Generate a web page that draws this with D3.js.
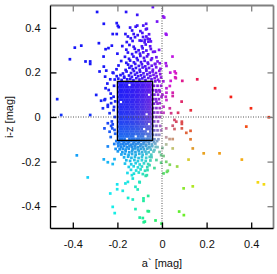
<!DOCTYPE html>
<html>
<head>
<meta charset="utf-8">
<script src="https://cdn.jsdelivr.net/npm/d3@7"></script>
<style>
  body { margin: 0; background: #fff; }
  text { font-family: "Liberation Sans", Arial, sans-serif; font-size: 11px; fill: #111; }
</style>
</head>
<body>
<svg id="chart" width="277" height="274"></svg>
<script>
// axis ticks and titles
var xTicks = [-0.4, -0.2, 0, 0.2, 0.4];
var yTicks = [-0.4, -0.2, 0, 0.2, 0.4];
var xTitle = "a` [mag]";
var yTitle = "i-z [mag]";

// selection box (a*, i-z)
var boxA = [-0.2, -0.042];
var boxIZ = [-0.105, 0.16];

// dense core, one row per i-z value: [i-z, [a* values]]
var coreRows = [
  [0.155, [-0.195,-0.184,-0.173,-0.162,-0.151,-0.14,-0.129,-0.118,-0.107,-0.096,-0.085,-0.074,-0.063,-0.052]],
  [0.144, [-0.19,-0.179,-0.168,-0.157,-0.135,-0.124,-0.113,-0.102,-0.091,-0.08,-0.069,-0.058,-0.047]],
  [0.133, [-0.195,-0.184,-0.173,-0.162,-0.151,-0.14,-0.129,-0.118,-0.107,-0.096,-0.085,-0.074,-0.063,-0.052]],
  [0.122, [-0.19,-0.179,-0.168,-0.157,-0.146,-0.135,-0.124,-0.113,-0.102,-0.091,-0.08,-0.069,-0.058,-0.047]],
  [0.111, [-0.195,-0.184,-0.173,-0.162,-0.151,-0.14,-0.129,-0.118,-0.107,-0.096,-0.085,-0.074,-0.063,-0.052]],
  [0.1, [-0.19,-0.179,-0.168,-0.157,-0.146,-0.135,-0.124,-0.113,-0.102,-0.091,-0.08,-0.069,-0.047]],
  [0.089, [-0.195,-0.184,-0.173,-0.162,-0.151,-0.14,-0.129,-0.118,-0.107,-0.096,-0.085,-0.074,-0.063,-0.052]],
  [0.078, [-0.19,-0.179,-0.168,-0.157,-0.146,-0.135,-0.124,-0.113,-0.102,-0.091,-0.08,-0.069,-0.058,-0.047]],
  [0.067, [-0.195,-0.173,-0.162,-0.151,-0.14,-0.129,-0.118,-0.107,-0.096,-0.085,-0.074,-0.063,-0.052]],
  [0.056, [-0.19,-0.179,-0.168,-0.157,-0.146,-0.135,-0.124,-0.113,-0.102,-0.091,-0.08,-0.069,-0.058,-0.047]],
  [0.045, [-0.195,-0.184,-0.173,-0.162,-0.151,-0.14,-0.129,-0.118,-0.107,-0.096,-0.085,-0.074,-0.063,-0.052]],
  [0.034, [-0.19,-0.179,-0.168,-0.157,-0.146,-0.135,-0.124,-0.113,-0.102,-0.091,-0.08,-0.069,-0.058,-0.047]],
  [0.023, [-0.195,-0.184,-0.173,-0.162,-0.151,-0.14,-0.129,-0.118,-0.107,-0.096,-0.085,-0.074,-0.063,-0.052]],
  [0.012, [-0.19,-0.179,-0.168,-0.157,-0.146,-0.135,-0.124,-0.113,-0.102,-0.091,-0.08,-0.058,-0.047]],
  [0.001, [-0.195,-0.184,-0.173,-0.162,-0.151,-0.14,-0.129,-0.118,-0.107,-0.096,-0.085,-0.074,-0.063,-0.052]],
  [-0.01, [-0.19,-0.179,-0.168,-0.157,-0.146,-0.135,-0.124,-0.113,-0.102,-0.091,-0.08,-0.069,-0.058,-0.047]],
  [-0.021, [-0.195,-0.184,-0.173,-0.162,-0.151,-0.14,-0.129,-0.118,-0.107,-0.096,-0.085,-0.074,-0.063,-0.052]],
  [-0.032, [-0.19,-0.179,-0.168,-0.157,-0.146,-0.135,-0.124,-0.113,-0.102,-0.091,-0.08,-0.069,-0.047]],
  [-0.043, [-0.195,-0.184,-0.173,-0.162,-0.151,-0.14,-0.129,-0.118,-0.107,-0.096,-0.085,-0.074,-0.063,-0.052]],
  [-0.054, [-0.19,-0.179,-0.168,-0.157,-0.146,-0.135,-0.124,-0.113,-0.102,-0.091,-0.069,-0.058,-0.047]],
  [-0.065, [-0.195,-0.184,-0.173,-0.162,-0.151,-0.14,-0.129,-0.118,-0.107,-0.096,-0.085,-0.074,-0.052]],
  [-0.076, [-0.19,-0.179,-0.168,-0.157,-0.146,-0.135,-0.124,-0.113,-0.102,-0.091,-0.08,-0.069,-0.058,-0.047]],
  [-0.087, [-0.195,-0.184,-0.173,-0.162,-0.151,-0.14,-0.129,-0.107,-0.096,-0.085,-0.063,-0.052]],
  [-0.098, [-0.19,-0.179,-0.168,-0.146,-0.135,-0.124,-0.113,-0.102,-0.091,-0.08,-0.069,-0.058,-0.047]]
];

// strip between the box and a* = 0
var edgeRows = [
  [0.16, [-0.03,-0.012,0.006]],
  [0.14, [-0.036,-0.02,-0.004]],
  [0.12, [-0.04,-0.026,-0.012]],
  [0.1, [-0.034,-0.018,0.002]],
  [0.08, [-0.04,-0.028,-0.014]],
  [0.06, [-0.036,-0.02]],
  [0.04, [-0.04,-0.025,-0.01]],
  [0.02, [-0.035,-0.02,-0.005]],
  [0.0, [-0.04,-0.025,-0.01]],
  [-0.02, [-0.035,-0.018]],
  [-0.04, [-0.04,-0.025,-0.008]],
  [-0.06, [-0.035,-0.02,-0.004]],
  [-0.08, [-0.04,-0.025,-0.012]],
  [-0.1, [-0.034,-0.016]]
];

// plume above the box: [a*, i-z]
var upperPlume = [
  [-0.212,0.168],[-0.196,0.172],[-0.181,0.166],[-0.169,0.176],[-0.156,0.169],[-0.142,0.171],[-0.128,0.165],[-0.115,0.174],
  [-0.101,0.168],[-0.088,0.173],[-0.074,0.166],[-0.061,0.175],[-0.047,0.169],[-0.033,0.174],[-0.018,0.167],[-0.004,0.177],
  [-0.203,0.183],[-0.186,0.188],[-0.17,0.181],[-0.148,0.186],[-0.135,0.18],[-0.121,0.19],[-0.107,0.183],[-0.094,0.187],
  [-0.079,0.181],[-0.066,0.191],[-0.052,0.184],[-0.038,0.189],[-0.024,0.182],[-0.008,0.192],
  [-0.218,0.197],[-0.175,0.195],[-0.159,0.204],[-0.139,0.197],[-0.126,0.206],[-0.112,0.198],[-0.098,0.203],
  [-0.083,0.196],[-0.07,0.207],[-0.055,0.199],[-0.042,0.204],[-0.027,0.197],[-0.012,0.207],
  [-0.204,0.214],[-0.163,0.211],[-0.146,0.221],[-0.131,0.214],[-0.117,0.22],[-0.1,0.212],[-0.087,0.222],[-0.071,0.215],
  [-0.058,0.22],[-0.041,0.212],[-0.026,0.223],[-0.007,0.216],
  [-0.195,0.231],[-0.152,0.235],[-0.137,0.228],[-0.12,0.238],[-0.104,0.229],[-0.09,0.236],[-0.075,0.227],[-0.062,0.238],
  [-0.046,0.23],[-0.03,0.237],
  [-0.183,0.251],[-0.16,0.243],[-0.143,0.253],[-0.126,0.245],[-0.109,0.255],[-0.094,0.246],[-0.078,0.252],[-0.064,0.244],
  [-0.049,0.256],[-0.02,0.249],
  [-0.166,0.27],[-0.148,0.261],[-0.128,0.271],[-0.113,0.264],[-0.097,0.274],[-0.081,0.265],[-0.067,0.272],[-0.045,0.263],
  [-0.025,0.268],
  [-0.2,0.284],[-0.153,0.289],[-0.134,0.282],[-0.116,0.291],[-0.099,0.284],[-0.084,0.29],[-0.062,0.281],[-0.04,0.292],
  [-0.16,0.302],[-0.122,0.306],[-0.105,0.299],[-0.087,0.308],[-0.07,0.298],[-0.05,0.305],
  [-0.178,0.318],[-0.146,0.323],[-0.127,0.315],[-0.09,0.317],[-0.073,0.325],[-0.053,0.317],
  [-0.158,0.336],[-0.132,0.341],[-0.092,0.342],[-0.078,0.335],[-0.05,0.339],
  [-0.14,0.353],[-0.121,0.358],[-0.085,0.359],[-0.064,0.351],
  [-0.127,0.372],[-0.109,0.367],[-0.088,0.377],[-0.058,0.371],
  [-0.134,0.388],[-0.097,0.385],[-0.072,0.393],
  [-0.118,0.405],[-0.084,0.41]
];

// tail below the box: [a*, i-z]
var lowerTail = [
  [-0.205,-0.108],[-0.192,-0.111],[-0.181,-0.107],[-0.17,-0.112],[-0.159,-0.108],[-0.148,-0.11],[-0.137,-0.107],[-0.126,-0.112],
  [-0.115,-0.108],[-0.104,-0.111],[-0.093,-0.107],[-0.082,-0.112],[-0.071,-0.109],[-0.06,-0.111],[-0.049,-0.107],[-0.036,-0.112],
  [-0.022,-0.108],
  [-0.214,-0.121],[-0.198,-0.119],[-0.186,-0.123],[-0.175,-0.12],[-0.163,-0.122],[-0.152,-0.119],[-0.14,-0.124],[-0.129,-0.12],
  [-0.117,-0.122],[-0.106,-0.119],[-0.094,-0.123],[-0.083,-0.12],[-0.071,-0.124],[-0.058,-0.12],[-0.045,-0.123],[-0.03,-0.119],
  [-0.196,-0.131],[-0.184,-0.134],[-0.171,-0.13],[-0.158,-0.135],[-0.146,-0.131],[-0.134,-0.133],[-0.122,-0.13],[-0.109,-0.135],
  [-0.097,-0.131],[-0.085,-0.134],[-0.072,-0.13],[-0.059,-0.135],[-0.044,-0.131],[-0.028,-0.134],
  [-0.208,-0.143],[-0.19,-0.145],[-0.176,-0.142],[-0.163,-0.146],[-0.149,-0.142],[-0.132,-0.145],[-0.12,-0.141],[-0.107,-0.146],
  [-0.094,-0.143],[-0.081,-0.145],[-0.066,-0.142],[-0.05,-0.146],
  [-0.198,-0.154],[-0.178,-0.157],[-0.163,-0.153],[-0.147,-0.158],[-0.134,-0.154],[-0.119,-0.157],[-0.104,-0.153],[-0.089,-0.158],
  [-0.074,-0.155],[-0.06,-0.158],[-0.038,-0.155],
  [-0.182,-0.168],[-0.166,-0.165],[-0.15,-0.17],[-0.134,-0.166],[-0.118,-0.169],[-0.102,-0.165],[-0.087,-0.17],[-0.07,-0.166],
  [-0.048,-0.169],
  [-0.17,-0.181],[-0.152,-0.178],[-0.137,-0.183],[-0.121,-0.179],[-0.105,-0.184],[-0.09,-0.18],[-0.071,-0.183],[-0.055,-0.179],
  [-0.16,-0.194],[-0.143,-0.197],[-0.124,-0.193],[-0.108,-0.198],[-0.09,-0.194],[-0.073,-0.197],[-0.052,-0.195],
  [-0.166,-0.209],[-0.138,-0.212],[-0.118,-0.207],[-0.1,-0.213],[-0.081,-0.208],[-0.062,-0.211],
  [-0.149,-0.224],[-0.127,-0.221],[-0.108,-0.226],[-0.09,-0.222],[-0.066,-0.225],
  [-0.139,-0.237],[-0.116,-0.24],[-0.096,-0.235],[-0.076,-0.241],
  [-0.155,-0.251],[-0.126,-0.254],[-0.104,-0.249],[-0.086,-0.256]
];

// scattered objects: [a*, i-z]
var sparseUpper = [
  [-0.291,0.471],[-0.261,0.418],[-0.391,0.311],[-0.362,0.320],[-0.413,0.259],[-0.343,0.249],[-0.322,0.249],
  [-0.322,0.238],[-0.283,0.331],[-0.262,0.271],[-0.253,0.304],[-0.240,0.309],[-0.225,0.320],[-0.280,0.204],
  [-0.261,0.226],[-0.255,0.181],[-0.250,0.208],[-0.232,0.169],[-0.221,0.199],[-0.295,0.099],[-0.470,0.080],
  [-0.452,0.009],[-0.322,0.009],[-0.273,0.073],[-0.255,0.080],[-0.243,0.046],[-0.228,0.062],[-0.217,0.091],
  [-0.217,0.031],[-0.228,-0.040],[-0.213,-0.058],[-0.161,0.471],[-0.111,0.458],[-0.041,0.493],[-0.203,0.421],
  [-0.198,0.409],[-0.194,0.403],[-0.143,0.401],[-0.111,0.410],[-0.071,0.418],[-0.068,0.396],[-0.022,0.428],
  [-0.221,0.372],[-0.203,0.372],[-0.164,0.372],[-0.153,0.361],[0.005,0.451],[0.010,0.446],[0.017,0.373],
  [0.020,0.369],[-0.070,0.361],[-0.055,0.349],[-0.061,0.338],[-0.077,0.346],[-0.100,0.343],
  [-0.253,0.129],[-0.239,0.121],[-0.258,0.076],[-0.265,0.039],[-0.243,0.054],[-0.228,0.084],[-0.235,0.017],
  [-0.243,-0.028],[-0.235,-0.066],[-0.223,-0.051],[-0.221,-0.033],[-0.258,-0.051],[-0.215,0.14],[-0.23,0.105],
  [-0.21,0.07],[-0.212,0.0],[-0.225,-0.02],[-0.21,-0.075],[-0.23,-0.09],[-0.245,0.15],[-0.215,0.045]
];

var sparseRight = [
  [0.047,0.271],[0.017,0.241],[0.020,0.229],[-0.010,0.241],[-0.032,0.238],[-0.032,0.293],[-0.013,0.301],
  [0.037,0.199],[0.057,0.204],[0.062,0.196],[0.039,0.162],[0.059,0.178],[0.062,0.174],[0.091,0.162],
  [0.158,0.169],[0.238,0.129],[0.309,0.090],[0.399,0.039],[0.479,-0.001],[0.378,-0.043],[0.035,0.039],
  [0.072,0.019],[0.129,0.030],[0.088,0.069],[0.020,0.129],[0.020,0.109],[0.017,0.091],[0.020,0.076],
  [-0.025,0.114],[-0.010,0.114],[-0.002,0.091],[-0.025,0.069],[-0.010,0.062],[0.035,0.139],[0.048,0.109],
  [0.048,0.094],[0.007,0.046],[0.041,0.017],[0.007,0.019],
  [0.056,-0.013],[0.064,-0.021],[0.089,-0.021],[0.089,-0.031],[0.048,-0.039],[0.056,-0.054],[0.109,-0.071],
  [0.128,-0.062],[0.089,-0.051],[0.019,-0.051],[0.019,-0.091],[0.034,-0.099],[0.048,-0.099],[0.128,-0.100],
  [0.019,-0.123],[0.048,-0.141],[0.138,-0.141],[0.187,-0.163],[0.258,-0.163],[0.358,-0.191],[0.119,-0.191],
  [-0.004,-0.171],[0.007,-0.175],[0.019,-0.201],[-0.004,-0.205],[0.068,-0.222],[0.026,-0.241],[0.007,-0.253],
  [0.430,-0.293],[0.457,-0.302],[0.138,-0.311],[0.097,-0.320],[0.035,-0.214],[0.077,-0.424],[0.098,-0.440],
  [0.022,-0.246]
];

var sparseLower = [
  [-0.062,-0.354],[-0.059,-0.423],[-0.100,-0.451],[-0.077,-0.469],[-0.002,-0.478],[-0.100,-0.293],[-0.073,-0.264],
  [-0.382,-0.172],[-0.333,-0.271],[-0.243,-0.132],[-0.261,-0.190],[-0.243,-0.203],[-0.221,-0.211],[-0.213,-0.189],
  [-0.201,-0.302],[-0.201,-0.324],[-0.232,-0.343],[-0.221,-0.403],[-0.212,-0.431],[-0.176,-0.331],[-0.153,-0.291],
  [-0.135,-0.261],[-0.131,-0.276],[-0.101,-0.291],[-0.119,-0.313],[-0.109,-0.325],[-0.152,-0.363],[-0.131,-0.370],
  [-0.083,-0.365],[-0.083,-0.376],[-0.119,-0.413],[-0.064,-0.422],[-0.086,-0.453],[-0.082,-0.472],[-0.029,-0.464],
  [-0.068,-0.261],[-0.164,-0.298],
  [-0.056,-0.135],[-0.034,-0.148],[-0.020,-0.135],[0.002,-0.139],[-0.011,-0.157],[-0.047,-0.180],[-0.025,-0.193],
  [-0.056,-0.216],[-0.034,-0.229],[-0.065,-0.238]
];

var svg = d3.select("#chart");

var x = d3.scaleLinear().domain([-0.5, 0.5]).range([50.5, 273.5]);
var y = d3.scaleLinear().domain([-0.5, 0.5]).range([228.5, 5.5]);

// gather all points
var points = [];
[coreRows, edgeRows].forEach(function(rows) {
  rows.forEach(function(r) {
    r[1].forEach(function(a) { points.push([a, r[0]]); });
  });
});
points = points.concat(upperPlume, lowerTail, sparseUpper, sparseRight, sparseLower);

function sig(v) { return 1 / (1 + Math.exp(-v)); }

// colour from position in the colour-colour plane, scaled to its brightest channel
function pointColor(a, iz) {
  var r = sig((a + 0.3 * Math.min(iz, 0)) / 0.07);
  var g = sig((-iz - 0.13) / 0.08);
  var b = sig((-a + (iz > 0 ? 0.5 : 0.15) * iz) / 0.07);
  var m = Math.max(r, g, b);
  var k = 0.55 + 0.45 * m;
  return d3.rgb(20 + 225 * r / m * k, 20 + 220 * g / m * k, 20 + 230 * b / m * k);
}

var s = 2.7;
svg.append("g")
    .attr("class", "points")
  .selectAll("rect")
  .data(points)
  .join("rect")
    .attr("x", function(d) { return x(d[0]) - s / 2; })
    .attr("y", function(d) { return y(d[1]) - s / 2; })
    .attr("width", s)
    .attr("height", s)
    .attr("fill", function(d) { return pointColor(d[0], d[1]); });

// zero lines
svg.append("line")
    .attr("x1", x(-0.5)).attr("x2", x(0.5))
    .attr("y1", y(0)).attr("y2", y(0))
    .attr("stroke", "#555").attr("stroke-width", 1)
    .attr("stroke-dasharray", "1,1.5");
svg.append("line")
    .attr("x1", x(0)).attr("x2", x(0))
    .attr("y1", y(0.5)).attr("y2", y(-0.5))
    .attr("stroke", "#555").attr("stroke-width", 1)
    .attr("stroke-dasharray", "1,1.5");

// selection box
svg.append("rect")
    .attr("x", x(boxA[0]))
    .attr("y", y(boxIZ[1]))
    .attr("width", x(boxA[1]) - x(boxA[0]))
    .attr("height", y(boxIZ[0]) - y(boxIZ[1]))
    .attr("fill", "none")
    .attr("stroke", "#000")
    .attr("stroke-width", 1.3);

var fmt = function(d) { return d === 0 ? "0" : d.toFixed(1); };

var xAxis = d3.axisBottom(x).tickValues(xTicks).tickSize(-6).tickPadding(11.5).tickFormat(fmt);
var yAxis = d3.axisLeft(y).tickValues(yTicks).tickSize(-6).tickPadding(10).tickFormat(fmt);
var xTop = d3.axisTop(x).tickValues(xTicks).tickSize(-6).tickFormat("");
var yRight = d3.axisRight(y).tickValues(yTicks).tickSize(-6).tickFormat("");

function styleAxis(g, col) {
  g.select(".domain").remove();
  g.selectAll(".tick line").attr("stroke", col).attr("stroke-width", 1.3);
  g.selectAll(".tick text").attr("fill", "#111")
      .style("font-family", "'Liberation Sans', Arial, sans-serif").style("font-size", "11px");
}

svg.append("g")
    .attr("transform", "translate(0," + y(-0.5) + ")")
    .call(xAxis)
    .call(styleAxis, "#000");

svg.append("g")
    .attr("transform", "translate(" + x(-0.5) + ",0)")
    .call(yAxis)
    .call(styleAxis, "#000");

svg.append("g")
    .attr("transform", "translate(0," + y(0.5) + ")")
    .call(xTop)
    .call(styleAxis, "#808080");

svg.append("g")
    .attr("transform", "translate(" + x(0.5) + ",0)")
    .call(yRight)
    .call(styleAxis, "#808080");

// frame: grey top/right, black left/bottom
svg.append("line")
    .attr("x1", x(-0.5)).attr("x2", x(0.5)).attr("y1", y(0.5)).attr("y2", y(0.5))
    .attr("stroke", "#808080").attr("stroke-width", 1.8);
svg.append("line")
    .attr("x1", x(0.5)).attr("x2", x(0.5)).attr("y1", y(0.5)).attr("y2", y(-0.5))
    .attr("stroke", "#808080").attr("stroke-width", 1.8);
svg.append("line")
    .attr("x1", x(-0.5)).attr("x2", x(0.5)).attr("y1", y(-0.5)).attr("y2", y(-0.5))
    .attr("stroke", "#000").attr("stroke-width", 1.3);
svg.append("line")
    .attr("x1", x(-0.5)).attr("x2", x(-0.5)).attr("y1", y(0.5)).attr("y2", y(-0.5))
    .attr("stroke", "#000").attr("stroke-width", 1.3);

svg.append("text")
    .attr("x", x(0))
    .attr("y", 267)
    .attr("text-anchor", "middle")
    .text(xTitle);

svg.append("text")
    .attr("transform", "translate(13," + y(0) + ") rotate(-90)")
    .attr("text-anchor", "middle")
    .text(yTitle);
</script>
</body>
</html>
